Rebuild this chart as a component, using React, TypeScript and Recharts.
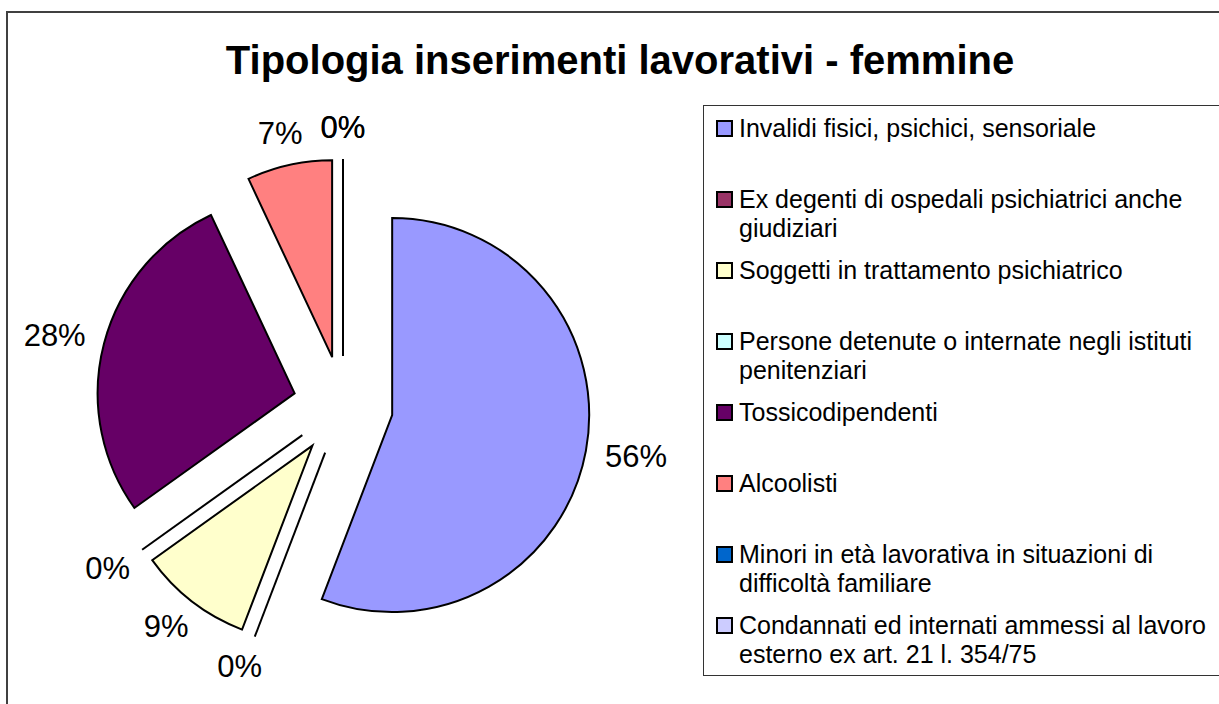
import React from 'react'
import { PieChart, Pie, Cell, Sector, Legend } from 'recharts'

const categories = [
  'Invalidi fisici, psichici, sensoriale',
  'Ex degenti di ospedali psichiatrici anche giudiziari',
  'Soggetti in trattamento psichiatrico',
  'Persone detenute o internate negli istituti penitenziari',
  'Tossicodipendenti',
  'Alcoolisti',
  'Minori in età lavorativa in situazioni di difficoltà familiare',
  'Condannati ed internati ammessi al lavoro esterno ex art. 21 l. 354/75',
]
const values = [24, 0, 4, 0, 12, 3, 0, 0]
const COLORS = ['#9999FF', '#993366', '#FFFFCC', '#CCFFFF', '#660066', '#FF8080', '#0066CC', '#CCCCFF']

const data = categories.map((name, i) => ({ name, value: values[i] }))

const FONT = 'Arial, "Liberation Sans", sans-serif'
const RAD = Math.PI / 180
const EXPLODE = 50
const LABEL_SIZE = 31

// offset of an exploded slice along its middle angle
const shift = (mid: number) => ({
  dx: EXPLODE * Math.cos(-mid * RAD),
  dy: EXPLODE * Math.sin(-mid * RAD),
})

const Slice = (props: any) => {
  const { cx, cy, outerRadius, startAngle, endAngle, fill } = props
  const mid = (startAngle + endAngle) / 2
  const { dx, dy } = shift(mid)
  const x0 = cx + dx
  const y0 = cy + dy
  if (Math.abs(endAngle - startAngle) < 1e-6) {
    return (
      <line
        x1={x0}
        y1={y0}
        x2={x0 + outerRadius * Math.cos(-startAngle * RAD)}
        y2={y0 + outerRadius * Math.sin(-startAngle * RAD)}
        stroke="#000"
        strokeWidth={2}
      />
    )
  }
  return (
    <Sector
      cx={x0}
      cy={y0}
      innerRadius={0}
      outerRadius={outerRadius}
      startAngle={startAngle}
      endAngle={endAngle}
      fill={fill}
      stroke="#000"
      strokeWidth={2}
    />
  )
}

const renderLabel = (props: any) => {
  const { cx, cy, outerRadius, startAngle, endAngle, percent, index } = props
  const mid = (startAngle + endAngle) / 2
  const { dx, dy } = shift(mid)
  const ux = Math.cos(-mid * RAD)
  const uy = Math.sin(-mid * RAD)
  const text = `${Math.round(percent * 100)}%`
  const w = LABEL_SIZE * (0.556 * (text.length - 1) + 0.889)
  const h = 24
  const x = cx + dx + (outerRadius + 20) * ux + (ux * w) / 2
  const y = cy + dy + (outerRadius + 20) * uy + (uy * h) / 2
  return (
    <text
      key={`lbl-${index}`}
      x={x}
      y={y}
      textAnchor="middle"
      dominantBaseline="central"
      fontSize={LABEL_SIZE}
      fontFamily={FONT}
      fill="#000"
    >
      {text}
    </text>
  )
}

const renderLegend = () => (
  <div
    style={{
      border: '1px solid #333',
      background: '#fff',
      width: 560,
      height: 569,
      fontFamily: FONT,
      fontSize: 25,
      lineHeight: '29px',
      color: '#000',
    }}
  >
    {categories.map((name, i) => (
      <div key={name} style={{ height: 71.1, display: 'flex', alignItems: 'flex-start', paddingTop: 7.5, boxSizing: 'border-box' }}>
        <span
          style={{
            width: 13,
            height: 13,
            border: '2px solid #000',
            background: COLORS[i],
            marginLeft: 12,
            marginTop: 6,
            marginRight: 6,
            flex: 'none',
          }}
        />
        <span style={{ width: 480 }}>{name}</span>
      </div>
    ))}
  </div>
)

export default function App() {
  return (
    <div style={{ position: 'relative', width: 1219, height: 704, overflow: 'hidden', background: '#fff' }}>
      <style>{'body{margin:0;overflow:hidden}'}</style>
      <div
        style={{
          position: 'absolute',
          left: 6,
          top: 11,
          width: 1240,
          height: 720,
          border: '2px solid #404040',
          background: '#fff',
        }}
      >
        <div
          style={{
            position: 'absolute',
            left: 112,
            top: 27,
            width: 1000,
            textAlign: 'center',
            fontFamily: FONT,
            fontWeight: 'bold',
            fontSize: 40,
            lineHeight: '40px',
            color: '#000',
            zIndex: 2,
          }}
        >
          Tipologia inserimenti lavorativi - femmine
        </div>
        <PieChart width={1212} height={692} margin={{ top: 0, right: 0, bottom: 0, left: 0 }}>
          <Pie
            data={data}
            dataKey="value"
            nameKey="name"
            cx={335}
            cy={393}
            outerRadius={197}
            startAngle={90}
            endAngle={-270}
            stroke="#000"
            strokeWidth={2}
            isAnimationActive={false}
            labelLine={false}
            label={renderLabel}
            shape={Slice}
            activeShape={Slice}
            inactiveShape={Slice}
          >
            {data.map((d, i) => (
              <Cell key={d.name} fill={COLORS[i]} />
            ))}
          </Pie>
          <Legend
            layout="vertical"
            align="right"
            verticalAlign="top"
            content={renderLegend}
            wrapperStyle={{ position: 'absolute', left: 695, top: 92, width: 560 }}
          />
        </PieChart>
      </div>
    </div>
  )
}
